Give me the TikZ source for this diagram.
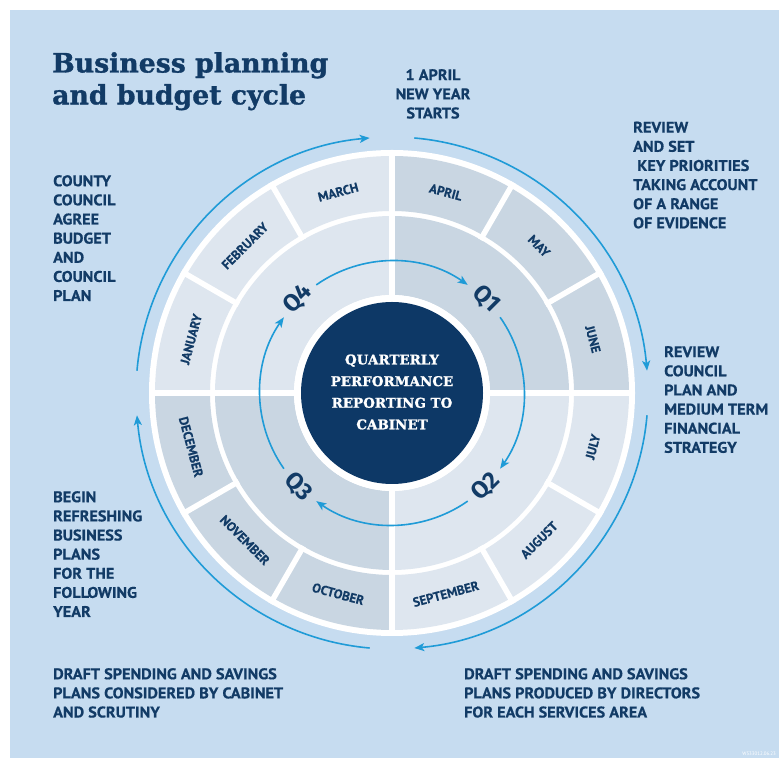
\documentclass[tikz,border=0pt]{standalone}
\usepackage{fontspec}
\usetikzlibrary{arrows.meta}
\setmainfont{PT Sans}
\newfontfamily\slab{DejaVu Serif Bold}[FakeBold=1.2]
\newfontfamily\sidefont{PT Sans Bold}[FakeStretch=1.05,FakeBold=0.6]
\newfontfamily\monthfont{PT Sans Bold}[FakeBold=0.4]
\newfontfamily\qfont{Fira Sans Bold}
\definecolor{bg}{HTML}{C6DCF0}
\definecolor{dk}{HTML}{C9D6E2}
\definecolor{lt}{HTML}{DEE6EF}
\definecolor{navy}{HTML}{0D3866}
\definecolor{ink}{HTML}{123B66}
\definecolor{arrblue}{HTML}{1F9BD7}
\tikzset{
  month/.style={font=\monthfont\fontsize{13}{13}\selectfont, text=ink, inner sep=0pt},
  qlab/.style={font=\qfont\fontsize{24}{24}\selectfont, text=ink, inner sep=0pt},
  side/.style={font=\sidefont\fontsize{15.5}{19.2}\selectfont, text=ink, inner sep=0pt, align=left, anchor=north west},
  arr/.style={draw=arrblue, line width=1.6bp, -{Stealth[length=10bp,width=8bp,inset=2.5bp]}},
}
\begin{document}
\begin{tikzpicture}[x=1bp,y=1bp]
\useasboundingbox (0,0) rectangle (779,760);
\fill[white] (0,0) rectangle (779,760);
\fill[bg] (10,2) rectangle (779,750);

\begin{scope}[shift={(392,367)}]
  \fill[white] (0,0) circle[radius=243];
  \foreach \a/\b/\c in {90/0/dk,0/-90/lt,-90/-180/dk,180/90/lt}{
    \fill[\c] (\a:237) arc[start angle=\a, end angle=\b, radius=237] -- (\b:182) arc[start angle=\b, end angle=\a, radius=182] -- cycle;
    \fill[\c] (\a:177) arc[start angle=\a, end angle=\b, radius=177] -- (\b:98) arc[start angle=\b, end angle=\a, radius=98] -- cycle;
  }
  \foreach \t in {30,60,120,150,210,240,300,330}{
    \draw[white, line width=5.5bp] (\t:177) -- (\t:243);
  }
  \draw[white, line width=6.5bp] (-243,0) -- (243,0);
  \draw[white, line width=6.5bp] (0,-243) -- (0,243);
  \fill[white] (0,0) circle[radius=98];
  \fill[navy] (0,0) circle[radius=91];

  \node[align=center, text=white, inner sep=0pt, font=\slab\fontsize{13.5}{21.7}\selectfont] (ctr) at (0,1) {QUARTERLY\\PERFORMANCE\\REPORTING TO\\CABINET};

  % months
  \node[month, rotate=-15] (apr) at (75:208) {APRIL};
  \node[month, rotate=-45] (may) at (45:208) {MAY};
  \node[month, rotate=-75] (jun) at (15:208) {JUNE};
  \node[month, rotate=75] (jul) at (-15:208) {JULY};
  \node[month, rotate=45] (aug) at (-45:208) {AUGUST};
  \node[month, rotate=15] (sep) at (-75:208) {SEPTEMBER};
  \node[month, rotate=-15] (oct) at (-105:208) {OCTOBER};
  \node[month, rotate=-45] (nov) at (-135:208) {NOVEMBER};
  \node[month, rotate=-75] (dec) at (-165:208) {DECEMBER};
  \node[month, rotate=75] (jan) at (165:208) {JANUARY};
  \node[month, rotate=45] (feb) at (135:208) {FEBRUARY};
  \node[month, rotate=15] (mar) at (105:208) {MARCH};

  % quarters
  \node[qlab, rotate=-45] (q1) at (45:133) {Q1};
  \node[qlab, rotate=45] (q2) at (-45:133) {Q2};
  \node[qlab, rotate=-45] (q3) at (-135:133) {Q3};
  \node[qlab, rotate=45] (q4) at (135:133) {Q4};

  % inner arrows
  \coordinate (i41) at (125:132);
  \coordinate (i12) at (35:132);
  \coordinate (i23) at (-55:132);
  \coordinate (i34) at (-145:132);
  \draw[arr] (i41) arc[start angle=125, end angle=55, radius=132];
  \draw[arr] (i12) arc[start angle=35, end angle=-35, radius=132];
  \draw[arr] (i23) arc[start angle=-55, end angle=-125, radius=132];
  \draw[arr] (i34) arc[start angle=-145, end angle=-215, radius=132];

  % outer arrows
  \coordinate (oA) at (175:256);
  \coordinate (oB) at (85:256);
  \coordinate (oC) at (-5:256);
  \coordinate (oD) at (-95:256);
  \draw[arr] (oA) arc[start angle=175, end angle=95, radius=256];
  \draw[arr] (oB) arc[start angle=85, end angle=5, radius=256];
  \draw[arr] (oC) arc[start angle=-5, end angle=-85, radius=256];
  \draw[arr] (oD) arc[start angle=-95, end angle=-175, radius=256];
\end{scope}

\node[anchor=north west, inner sep=0pt, align=left, text=ink, font=\slab\fontsize{26.8}{32}\selectfont] (title) at (52,708) {Business planning\\and budget cycle};

\node[side, anchor=north, align=center] (newyear) at (433,691) {1 APRIL\\NEW YEAR\\STARTS};
\node[side] (keypri) at (633,638.5) {REVIEW\\AND SET\\\ KEY PRIORITIES\\TAKING ACCOUNT\\OF A RANGE\\OF EVIDENCE};
\node[side] (mtfs) at (664,414) {REVIEW\\COUNCIL\\PLAN AND\\MEDIUM TERM\\FINANCIAL\\STRATEGY};
\node[side] (county) at (53,585) {COUNTY\\COUNCIL\\AGREE\\BUDGET\\AND\\COUNCIL\\PLAN};
\node[side] (begin) at (53,269) {BEGIN\\REFRESHING\\BUSINESS\\PLANS\\FOR THE\\FOLLOWING\\YEAR};
\node[side] (draftl) at (53,92) {DRAFT SPENDING AND SAVINGS\\PLANS CONSIDERED BY CABINET\\AND SCRUTINY};
\node[side] (draftr) at (464,92) {DRAFT SPENDING AND SAVINGS\\PLANS PRODUCED BY DIRECTORS\\FOR EACH SERVICES AREA};
\node[anchor=east, inner sep=0pt, text=white, font=\fontsize{5}{5}\selectfont] (code) at (776,6) {W533012.06.23};
\end{tikzpicture}
\end{document}
